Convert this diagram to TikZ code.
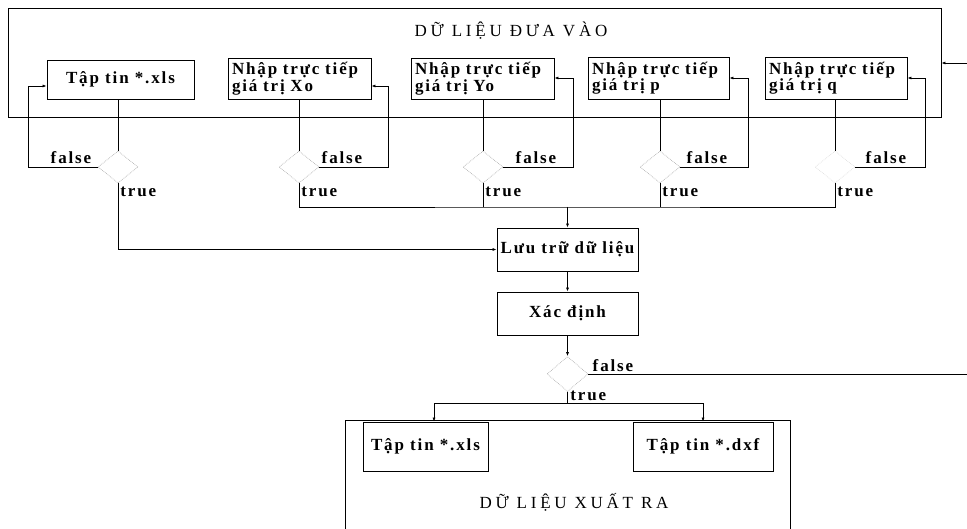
\documentclass[tikz,border=0pt]{standalone}
\usepackage{fontspec}
\setmainfont{Liberation Serif}
\newfontfamily\boxfont[LetterSpace=11]{Liberation Serif}
\newfontfamily\titlefont[LetterSpace=22]{Liberation Serif}
\usetikzlibrary{arrows.meta,shapes.geometric}
\begin{document}
\begin{tikzpicture}[x=1pt,y=-1pt,
  line width=0.7pt,
  arr/.style={-{Latex[length=4pt,width=3pt]}},
  frame/.style={draw,line width=0.8pt,rectangle,inner sep=0pt},
  box/.style={frame,font=\boxfont\bfseries\fontsize{17}{16.5}\selectfont},
  entry/.style={box,inner xsep=4pt,inner ysep=0pt,align=left},
  dia/.style={diamond,draw=gray!60,densely dotted,line width=0.7pt,inner sep=0pt,minimum width=40pt,minimum height=32pt},
  lbl/.style={inner sep=0pt,font=\boxfont\bfseries\fontsize{17}{16}\selectfont},
  ttl/.style={inner sep=0pt,font=\titlefont\fontsize{17}{18}\selectfont}]
\useasboundingbox (0,0) rectangle (967,529);
% input frame
\node[frame,minimum width=933pt,minimum height=109pt] (inbox) at (474.5,62.5) {};
\node[ttl] (tin) at (511,31) {DỮ LIỆU ĐƯA VÀO};
% entry boxes
\node[box,minimum width=147pt,minimum height=39pt] (b1) at (120.5,79.5) {Tập tin *.xls};
\node[entry,text width=135pt,minimum height=41pt] (b2) at (299.5,78.5) {Nhập trực tiếp\\giá trị Xo};
\node[entry,text width=135pt,minimum height=41pt] (b3) at (482.5,78.5) {Nhập trực tiếp\\giá trị Yo};
\node[entry,text width=133pt,minimum height=42pt] (b4) at (658.5,78) {Nhập trực tiếp\\giá trị p};
\node[entry,text width=134pt,minimum height=42pt] (b5) at (836,78) {Nhập trực tiếp\\giá trị q};
% decisions
\node[dia] (d1) at (118,167) {};
\node[dia] (d2) at (299,167) {};
\node[dia] (d3) at (483,167) {};
\node[dia] (d4) at (660,167) {};
\node[dia,draw=gray!25] (d5) at (835,167) {};
% processing
\node[box,minimum width=141pt,minimum height=43pt] (luu) at (567.5,249.5) {Lưu trữ dữ liệu};
\node[box,minimum width=141pt,minimum height=43pt] (xac) at (567.5,313.5) {Xác định};
\node[dia,minimum width=41pt,minimum height=35pt] (d6) at (567.5,374) {};
% output
\draw[line width=0.8pt] (345,529) -- (345,420) -- (790,420) -- (790,529);
\node[box,minimum width=125pt,minimum height=49pt] (o1) at (425.5,446.5) {Tập tin *.xls};
\node[box,minimum width=140pt,minimum height=49pt] (o2) at (703,446.5) {Tập tin *.dxf};
\node[ttl] (tout) at (574,502) {DỮ LIỆU XUẤT RA};
% labels
\node[lbl] (fl1) at (71,158) {false};
\node[lbl] (fl2) at (342,158) {false};
\node[lbl] (fl3) at (536,158) {false};
\node[lbl] (fl4) at (707,158) {false};
\node[lbl] (fl5) at (886,158) {false};
\node[lbl] (fl6) at (613,366) {false};
\node[lbl,anchor=west] (tr1) at (120,192) {true};
\node[lbl,anchor=west] (tr2) at (301,192) {true};
\node[lbl,anchor=west] (tr3) at (485,192) {true};
\node[lbl,anchor=west] (tr4) at (662,192) {true};
\node[lbl,anchor=west] (tr5) at (837,192) {true};
\node[lbl,anchor=west] (tr6) at (570,396) {true};
% coordinates
\coordinate (f1) at (28,86);
\coordinate (f2) at (388,86);
\coordinate (f3) at (573,78);
\coordinate (f4) at (748,78);
\coordinate (f5) at (925,78);
\coordinate (bus) at (567.5,207);
\coordinate (tb) at (567.5,403);
\coordinate (tl) at (434,403);
\coordinate (trr) at (703,403);
\coordinate (loopin) at (967,63);
\coordinate (loopout) at (967,373);
% box to decision
\draw (d1.north |- b1.south) -- (d1.north);
\draw (d2.north |- b2.south) -- (d2.north);
\draw (d3.north |- b3.south) -- (d3.north);
\draw (d4.north |- b4.south) -- (d4.north);
\draw (d5.north |- b5.south) -- (d5.north);
% false branches
\draw[arr] (d1.west) -| (f1) -- (f1 -| b1.west);
\draw[arr] (d2.east) -| (f2) -- (f2 -| b2.east);
\draw[arr] (d3.east) -| (f3) -- (f3 -| b3.east);
\draw[arr] (d4.east) -| (f4) -- (f4 -| b4.east);
\draw[arr] (d5.east) -| (f5) -- (f5 -| b5.east);
% true branches
\draw[arr] (d1.south) |- (luu.west);
\draw (d2.south) |- (bus) -| (d5.south);
\draw (d3.south) -- (d3.south |- bus);
\draw (d4.south) -- (d4.south |- bus);
\draw[arr] (bus) -- (luu.north);
\draw[arr] (luu) -- (xac);
\draw[arr] (xac) -- (d6);
\draw (d6.east) -- (d6.east -| loopout);
\draw[arr] (loopin) -- (loopin -| inbox.east);
\draw (d6.south) -- (tb);
\draw (tl) -- (trr);
\draw[arr] (tl) -- (tl |- o1.north);
\draw[arr] (trr) -- (trr |- o2.north);
\end{tikzpicture}
\end{document}
